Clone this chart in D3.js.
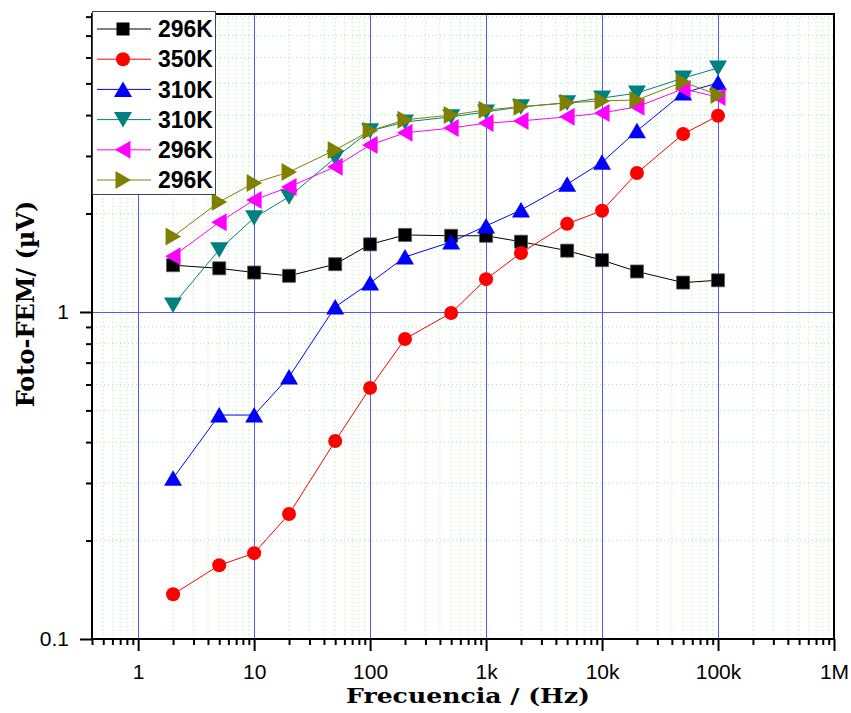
<!DOCTYPE html>
<html>
<head>
<meta charset="utf-8">
<script src="https://cdn.jsdelivr.net/npm/d3@7"></script>
<style>
  body { margin: 0; background: #fff; }
  svg { display: block; }
</style>
</head>
<body>
<div id="graph"></div>
<script>
// frequencies (Hz)
const freq = [2, 5, 10, 20, 50, 100, 200, 500, 1e3, 2e3, 5e3, 1e4, 2e4, 5e4, 1e5]

// photo-EMF (uV) per series
const black296 = [1.39, 1.36, 1.32, 1.29, 1.40, 1.61, 1.72, 1.71, 1.71, 1.64, 1.54, 1.44, 1.33, 1.23, 1.25]
const red350 = [0.137, 0.168, 0.183, 0.241, 0.403, 0.586, 0.827, 0.993, 1.26, 1.515, 1.86, 2.04, 2.66, 3.50, 3.98]
const blue310 = [0.31, 0.484, 0.484, 0.633, 1.036, 1.227, 1.473, 1.637, 1.833, 2.05, 2.46, 2.87, 3.58, 4.67, 5.02]
const teal310 = [1.05, 1.55, 1.94, 2.25, 2.96, 3.58, 3.81, 3.95, 4.09, 4.24, 4.36, 4.51, 4.67, 5.19, 5.57]
const magenta296 = [1.48, 1.88, 2.20, 2.41, 2.78, 3.24, 3.53, 3.65, 3.78, 3.84, 3.95, 4.06, 4.24, 4.81, 4.54]
const olive296 = [1.70, 2.17, 2.48, 2.68, 3.13, 3.58, 3.87, 4.00, 4.15, 4.24, 4.36, 4.42, 4.45, 5.05, 4.61]

const seriesNames = ["296K", "350K", "310K", "310K", "296K", "296K"]

const xTickValues = [1, 10, 100, 1e3, 1e4, 1e5, 1e6]
const xTickLabels = ["1", "10", "100", "1k", "10k", "100k", "1M"]
const yTickValues = [0.1, 1]
const yTickLabels = ["0.1", "1"]

const width = 851
const height = 713
const plotL = 92, plotR = 834, plotT = 14, plotB = 639

const series = [
    { name: seriesNames[0], values: black296, color: "#000000", shape: "square" },
    { name: seriesNames[1], values: red350, color: "#ff0000", shape: "circle" },
    { name: seriesNames[2], values: blue310, color: "#0000ff", shape: "up" },
    { name: seriesNames[3], values: teal310, color: "#008080", shape: "down" },
    { name: seriesNames[4], values: magenta296, color: "#ff00ff", shape: "left" },
    { name: seriesNames[5], values: olive296, color: "#808000", shape: "right" }
]

const svg = d3.select("#graph").append("svg")
    .attr("width", width)
    .attr("height", height)

svg.append("rect").attr("width", width).attr("height", height).attr("fill", "#fff")

const x = d3.scaleLog().domain([0.4, 1e6]).range([plotL, plotR])
const y = d3.scaleLog().domain([0.1, 8.15]).range([plotB, plotT])

// minor values (2..9 in each decade, inside domain)
const xMinor = []
for (let e = -1; e < 6; e++) for (let m = 2; m <= 9; m++) {
    const v = m * Math.pow(10, e)
    if (v >= 0.4 && v < 1e6) xMinor.push(v)
}
const yMinor = []
for (let e = -1; e < 1; e++) for (let m = 2; m <= 9; m++) {
    const v = m * Math.pow(10, e)
    if (v <= 8.15) yMinor.push(v)
}

// Minor grid
const grid = svg.append("g")
grid.selectAll(".gx").data(xMinor).join("line")
    .attr("x1", d => x(d)).attr("x2", d => x(d))
    .attr("y1", plotT).attr("y2", plotB)
    .attr("stroke", "#9ef09e").attr("stroke-dasharray", "1,3")
grid.selectAll(".gy").data(yMinor).join("line")
    .attr("y1", d => y(d)).attr("y2", d => y(d))
    .attr("x1", plotL).attr("x2", plotR)
    .attr("stroke", "#9ef09e").attr("stroke-dasharray", "1,3")

// Major grid
grid.selectAll(".mx").data(xTickValues.slice(0, -1)).join("line")
    .attr("x1", d => Math.round(x(d)) + 0.5).attr("x2", d => Math.round(x(d)) + 0.5)
    .attr("y1", plotT).attr("y2", plotB)
    .attr("stroke", "#5555ff")
grid.append("line")
    .attr("x1", plotL).attr("x2", plotR)
    .attr("y1", Math.round(y(1)) + 0.5).attr("y2", Math.round(y(1)) + 0.5)
    .attr("stroke", "#5555ff")

// Axes
const tickFont = "'Liberation Sans', Arial, sans-serif"

svg.append("g")
    .attr("transform", `translate(0,${plotB})`)
    .call(d3.axisBottom(x).tickValues(xMinor).tickSize(6).tickFormat(""))
svg.append("g")
    .attr("transform", `translate(0,${plotB})`)
    .call(d3.axisBottom(x).tickValues(xTickValues).tickSize(12).tickPadding(13)
        .tickFormat((d, i) => xTickLabels[i]))
svg.append("g")
    .attr("transform", `translate(${plotL},0)`)
    .call(d3.axisLeft(y).tickValues(yMinor).tickSize(6).tickFormat(""))
svg.append("g")
    .attr("transform", `translate(${plotL},0)`)
    .call(d3.axisLeft(y).tickValues(yTickValues).tickSize(12).tickPadding(11)
        .tickFormat((d, i) => yTickLabels[i]))

svg.selectAll(".domain").remove()
svg.selectAll(".tick line").attr("stroke", "#000").attr("stroke-width", 2)
svg.selectAll(".tick text")
    .attr("font-family", tickFont)
    .attr("font-size", 21)
    .attr("fill", "#000")

// Frame
svg.append("rect")
    .attr("x", plotL).attr("y", plotT)
    .attr("width", plotR - plotL).attr("height", plotB - plotT)
    .attr("fill", "none").attr("stroke", "#000").attr("stroke-width", 2)

// Marker shapes
function markerPath(shape) {
    switch (shape) {
        case "square": return "M-6.5,-6.5H6.5V6.5H-6.5Z"
        case "circle": return "M7,0A7,7 0 1,1 -7,0A7,7 0 1,1 7,0Z"
        case "up": return "M0,-8L9,7.5H-9Z"
        case "down": return "M0,8L9,-7.5H-9Z"
        case "left": return "M-8,0L7.5,-9V9Z"
        case "right": return "M8,0L-7.5,-9V9Z"
    }
}

const line = d3.line()
    .x((d, i) => x(freq[i]))
    .y(d => y(d))

const plot = svg.append("g")
series.forEach(s => {
    const g = plot.append("g")
    g.append("path")
        .attr("d", line(s.values))
        .attr("fill", "none")
        .attr("stroke", s.color)
        .attr("stroke-width", 1)
    g.selectAll("path.m").data(s.values).join("path")
        .attr("class", "m")
        .attr("transform", (d, i) => `translate(${x(freq[i])},${y(d)})`)
        .attr("d", markerPath(s.shape))
        .attr("fill", s.color)
        .attr("stroke", s.shape === "square" ? "#555" : "none")
        .attr("stroke-width", 0.8)
})

// Legend
const legend = svg.append("g")
legend.append("rect")
    .attr("x", 92.5).attr("y", 11.5)
    .attr("width", 123).attr("height", 183)
    .attr("fill", "#fff").attr("stroke", "#444").attr("stroke-width", 1)

series.forEach((s, i) => {
    const ly = 29 + i * 30.2
    legend.append("line")
        .attr("x1", 97).attr("x2", 151)
        .attr("y1", ly).attr("y2", ly)
        .attr("stroke", s.color).attr("stroke-width", 1)
    legend.append("path")
        .attr("transform", `translate(123,${ly})`)
        .attr("d", markerPath(s.shape))
        .attr("fill", s.color)
    legend.append("text")
        .attr("x", 158).attr("y", ly)
        .attr("dy", "0.36em")
        .attr("font-family", tickFont)
        .attr("font-weight", "bold")
        .attr("font-size", 23)
        .text(s.name)
})

// Axis titles
svg.append("text")
    .attr("x", 346)
    .attr("y", 703)
    .attr("font-family", "'DejaVu Serif', serif")
    .attr("font-weight", "bold")
    .attr("font-size", 21)
    .attr("textLength", 244)
    .attr("lengthAdjust", "spacingAndGlyphs")
    .text("Frecuencia / (Hz)")

svg.append("text")
    .attr("transform", "translate(34,304) rotate(-90)")
    .attr("text-anchor", "middle")
    .attr("font-family", "'DejaVu Serif', serif")
    .attr("font-weight", "bold")
    .attr("font-size", 24)
    .text("Foto-FEM/ (µV)")
</script>
</body>
</html>
